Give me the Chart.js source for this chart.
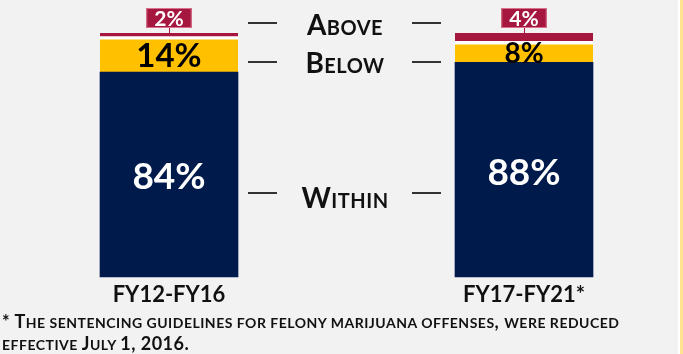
<!DOCTYPE html>
<html>
<head>
<meta charset="utf-8">
<script src="https://cdn.jsdelivr.net/npm/chart.js@4/dist/chart.umd.min.js"></script>
<style>
  html, body { margin: 0; padding: 0; }
  body { width: 683px; height: 354px; background: #f2f2f2; position: relative; overflow: hidden; font-family: Lato, "Open Sans", sans-serif; }
  #wrap { position: absolute; left: 0; top: 0; width: 683px; height: 354px; }
  .strip-w { position: absolute; left: 678px; top: 0; width: 2px; height: 354px; background: #ffffff; }
  .strip-y { position: absolute; left: 680px; top: 0; width: 3px; height: 354px; background: #ffe38f; }
  .cat { position: absolute; font-weight: 700; font-variant: small-caps; color: #111; font-size: 28px; line-height: 28px; letter-spacing: 0.5px; text-align: center; width: 140px; left: 275px; }
  .dash { position: absolute; height: 1.5px; background: #333; width: 29px; }
  #note { position: absolute; left: 2px; top: 311px; font-weight: 700; color: #111; font-size: 18px; line-height: 20px; white-space: nowrap; letter-spacing: 0.5px; }
  #note .sc { font-size: 14px; text-transform: uppercase; }
</style>
</head>
<body>
<div class="strip-w"></div>
<div class="strip-y"></div>
<div id="wrap"><canvas id="c" width="683" height="354"></canvas></div>
<div class="cat" style="top:10px">Above</div>
<div class="cat" style="top:48px">Below</div>
<div class="cat" style="top:183px">Within</div>
<div class="dash" style="left:248px;top:22px"></div>
<div class="dash" style="left:412px;top:22px"></div>
<div class="dash" style="left:248px;top:61px"></div>
<div class="dash" style="left:412px;top:61px"></div>
<div class="dash" style="left:248px;top:192px"></div>
<div class="dash" style="left:412px;top:192px"></div>
<div id="note"></div>
<script>
const categories = ['FY12-FY16', 'FY17-FY21*'];
const withinValues = [84, 88];
const belowValues = [14, 8];
const aboveValues = [2, 4];
const noteLines = ['* The sentencing guidelines for felony marijuana offenses, were reduced', 'effective July 1, 2016.'];

const NAVY = '#001a4b';
const GOLD = '#ffc000';
const RED = '#a5173f';

// build small-caps footnote (real text)
(function () {
  const note = document.getElementById('note');
  noteLines.forEach((line, li) => {
    if (li > 0) note.appendChild(document.createElement('br'));
    let buf = '', isSmall = null;
    const flush = () => {
      if (!buf) return;
      const s = document.createElement('span');
      if (isSmall) s.className = 'sc';
      s.textContent = buf;
      note.appendChild(s);
      buf = '';
    };
    for (const ch of line) {
      const small = ch !== ch.toUpperCase();
      if (isSmall !== null && small !== isSmall && ch !== ' ') flush();
      if (ch !== ' ' || isSmall === null) isSmall = (ch === ' ') ? isSmall : small;
      buf += ch;
    }
    flush();
  });
})();

const segLabels = {
  id: 'segLabels',
  afterDatasetsDraw(chart, args, opts) {
    const ctx = chart.ctx;
    ctx.save();
    chart.data.datasets.forEach((ds, di) => {
      const meta = chart.getDatasetMeta(di);
      meta.data.forEach((bar, i) => {
        const v = ds.data[i];
        const txt = v + '%';
        const top = Math.min(bar.y, bar.base);
        const bottom = Math.max(bar.y, bar.base);
        const cx = bar.x;
        ctx.textAlign = 'center';
        ctx.textBaseline = 'middle';
        if (ds.kind === 'within') {
          ctx.fillStyle = '#ffffff';
          ctx.font = 'bold 37px Lato, sans-serif';
          ctx.fillText(txt, cx, (top + bottom) / 2 + 3);
        } else if (ds.kind === 'below') {
          ctx.fillStyle = '#000000';
          ctx.font = 'bold ' + opts.belowSizes[i] + 'px Lato, sans-serif';
          ctx.fillText(txt, cx, (top + bottom) / 2 + 1);
        } else {
          ctx.font = 'bold 21px Lato, sans-serif';
          const w = ctx.measureText(txt).width + 16;
          const bh = 20;
          const by = top - 25;
          ctx.strokeStyle = RED;
          ctx.lineWidth = 1;
          ctx.beginPath();
          ctx.moveTo(cx + 0.5, by + bh);
          ctx.lineTo(cx + 0.5, top);
          ctx.stroke();
          ctx.fillStyle = RED;
          ctx.fillRect(cx - w / 2, by, w, bh);
          ctx.strokeStyle = '#d9708c';
          ctx.strokeRect(cx - w / 2 + 0.5, by + 0.5, w - 1, bh - 1);
          ctx.fillStyle = '#ffffff';
          ctx.fillText(txt, cx, by + bh / 2 + 1);
        }
      });
    });
    ctx.restore();
  }
};

new Chart(document.getElementById('c'), {
  type: 'bar',
  data: {
    labels: categories,
    datasets: [
      { label: 'Within', kind: 'within', data: withinValues, backgroundColor: NAVY, borderWidth: 0, clip: false },
      { label: 'Below', kind: 'below', data: belowValues, backgroundColor: GOLD, borderColor: '#ffffff', borderWidth: { top: 2, left: 0, right: 0, bottom: 0 }, borderSkipped: false, clip: false },
      { label: 'Above', kind: 'above', data: aboveValues, backgroundColor: RED, borderColor: '#ffffff', borderWidth: { top: 0, left: 0, right: 0, bottom: 2 }, borderSkipped: false, clip: false }
    ]
  },
  plugins: [segLabels],
  options: {
    responsive: false,
    animation: false,
    barThickness: 138,
    layout: { padding: { left: 169, right: 159, top: 33, bottom: 0 } },
    plugins: {
      legend: { display: false },
      tooltip: { enabled: false },
      segLabels: { belowSizes: [33, 28] }
    },
    scales: {
      x: {
        type: 'category',
        stacked: true,
        offset: false,
        grid: { display: false, drawTicks: false },
        border: { display: false },
        ticks: { color: '#111', font: { family: 'Lato', weight: 'bold', size: 22 }, padding: 5, maxRotation: 0, autoSkip: false },
        afterFit(scale) { scale.height = 77; }
      },
      y: {
        stacked: true,
        min: 0,
        max: 100,
        display: false
      }
    }
  }
});
</script>
</body>
</html>
